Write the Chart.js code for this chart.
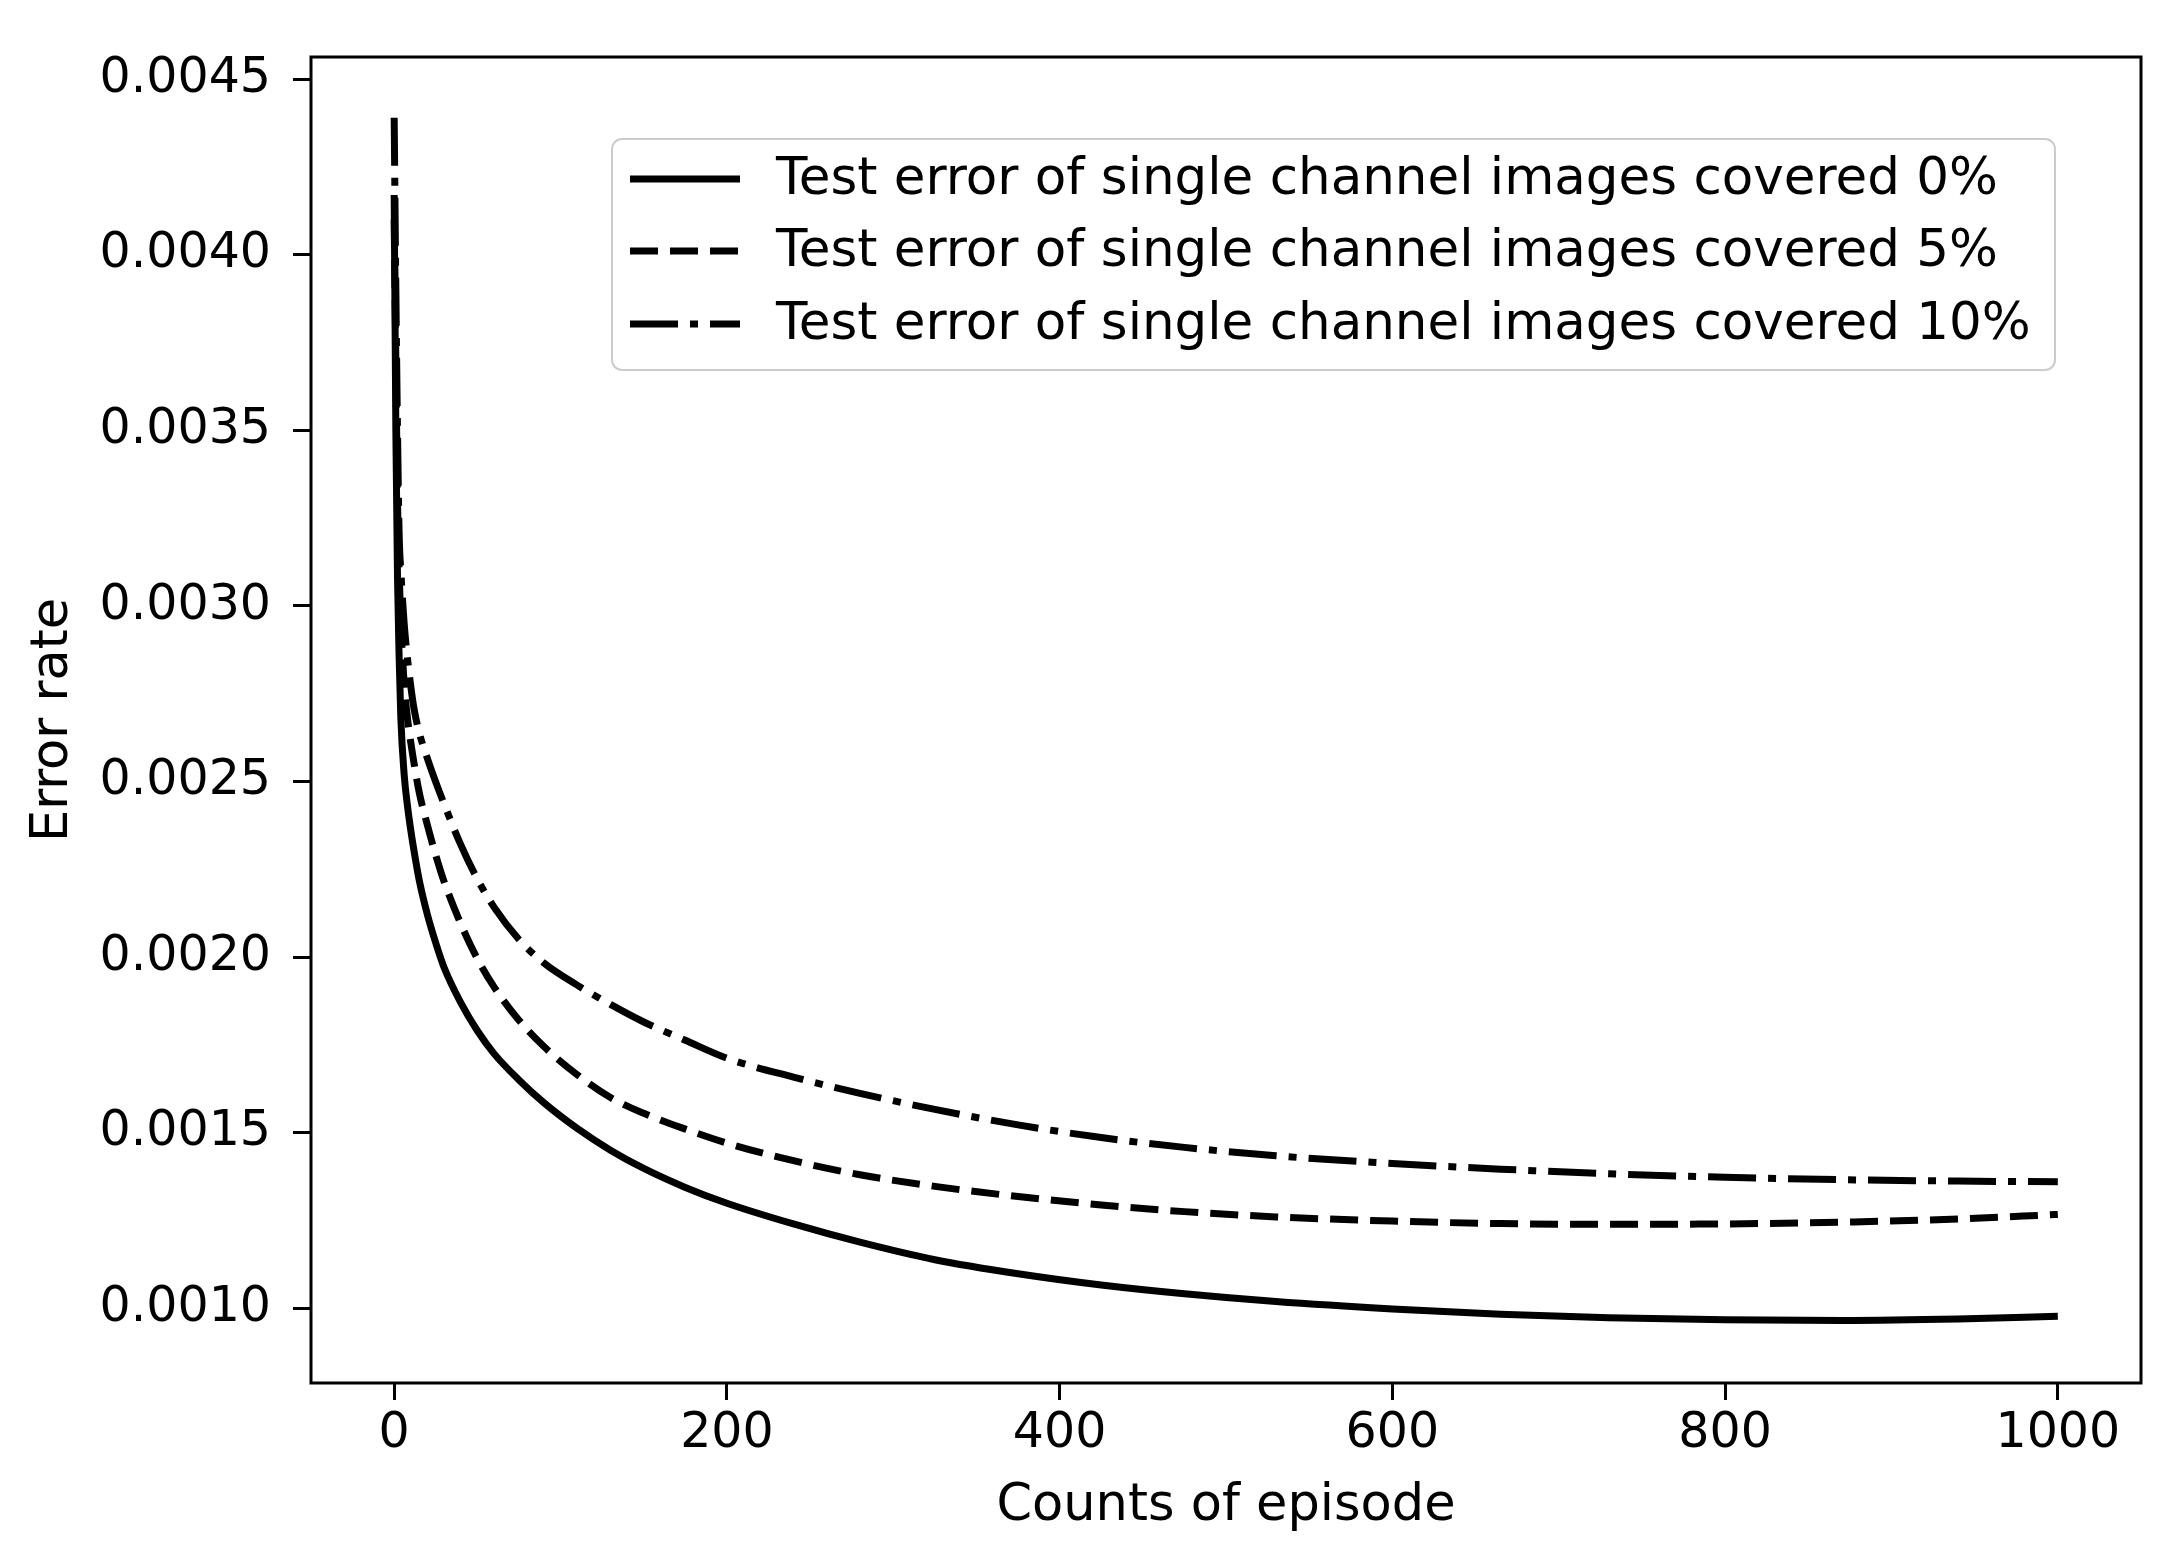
<!DOCTYPE html>
<html>
<head>
<meta charset="utf-8">
<script src="https://cdn.jsdelivr.net/npm/chart.js@4"></script>
<style>
  html, body { margin: 0; padding: 0; background: #ffffff; }
  #c { display: block; }
</style>
</head>
<body>
<canvas id="c" width="2180" height="1549"></canvas>
<script>
// ---- data ----
const episodes  = [0, 1, 2, 3, 4, 6, 8, 10, 12, 15, 20, 25, 30, 40, 50, 60, 75, 90, 110, 130, 150, 175, 200, 240, 280, 325, 375, 425, 475, 530, 600, 665, 730, 800, 870, 940, 1000];
const covered0  = [0.00417, 0.0035, 0.00308, 0.00285, 0.00268, 0.00252, 0.00243, 0.00236, 0.00230, 0.00222, 0.00212, 0.00204, 0.00197, 0.00187, 0.00179, 0.001725, 0.00165, 0.001585, 0.001512, 0.00145, 0.001398, 0.001344, 0.001299, 0.00124, 0.001188, 0.001138, 0.001098, 0.001066, 0.001041, 0.001019, 0.000998, 0.000983, 0.000973, 0.000967, 0.000965, 0.000969, 0.000977];
const covered5  = [0.0041, 0.0037, 0.0033, 0.0031, 0.00295, 0.00278, 0.00268, 0.00261, 0.00255, 0.00247, 0.002375, 0.00229, 0.002215, 0.002095, 0.001995, 0.001915, 0.00182, 0.001745, 0.001665, 0.0016, 0.001555, 0.00151, 0.00147, 0.00142, 0.00138, 0.001347, 0.001318, 0.001294, 0.001275, 0.00126, 0.001248, 0.001241, 0.001239, 0.00124, 0.001245, 0.001254, 0.001267];
const covered10 = [0.00439, 0.0039, 0.0035, 0.0032, 0.0031, 0.00295, 0.00285, 0.00277, 0.002705, 0.00264, 0.002565, 0.002498, 0.002436, 0.00232, 0.002222, 0.002142, 0.00205, 0.001983, 0.00192, 0.001865, 0.001815, 0.001763, 0.001712, 0.001658, 0.001612, 0.001566, 0.001522, 0.001486, 0.001458, 0.001434, 0.001412, 0.001396, 0.001383, 0.001373, 0.001366, 0.001362, 0.00136];
const seriesLabels = [
  'Test error of single channel images covered 0%',
  'Test error of single channel images covered 5%',
  'Test error of single channel images covered 10%'
];
const xTicks = [0, 200, 400, 600, 800, 1000];
const yTicks = [0.0010, 0.0015, 0.0020, 0.0025, 0.0030, 0.0035, 0.0040, 0.0045];
const xTitle = 'Counts of episode';
const yTitle = 'Error rate';

// ---- styles ----
const FONT = 'DejaVu Sans';
const FS = 49;        // tick labels
const FS_TITLE = 51;  // axis titles
const FS_LEG = 51.5;  // legend
const LW = 7;
const dashes = [[], [28, 12], [48, 12, 8, 12]];

function pts(ys) { return episodes.map((x, i) => ({ x: x, y: ys[i] })); }

const frame = {
  id: 'frame',
  afterDatasetsDraw(chart) {
    const { ctx, chartArea: a } = chart;
    ctx.save();
    ctx.strokeStyle = '#000';
    ctx.lineWidth = 3;
    ctx.strokeRect(a.left, a.top, a.right - a.left, a.bottom - a.top);
    ctx.restore();
  }
};

const legendBox = {
  id: 'legendBox',
  afterDraw(chart) {
    const { ctx, chartArea: a } = chart;
    const w = 1443, h = 231;
    const x0 = a.right - 86 - w, y0 = a.top + 82;
    ctx.save();
    ctx.beginPath();
    if (ctx.roundRect) ctx.roundRect(x0, y0, w, h, 10); else ctx.rect(x0, y0, w, h);
    ctx.fillStyle = 'rgba(255,255,255,0.85)';
    ctx.fill();
    ctx.strokeStyle = '#cccccc';
    ctx.lineWidth = 2;
    ctx.stroke();
    const rows = [40, 112, 185];
    chart.data.datasets.forEach((ds, i) => {
      const cy = y0 + rows[i];
      ctx.beginPath();
      ctx.setLineDash(ds.borderDash || []);
      ctx.lineWidth = LW;
      ctx.strokeStyle = '#000';
      ctx.moveTo(x0 + 18, cy);
      ctx.lineTo(x0 + 128, cy);
      ctx.stroke();
      ctx.setLineDash([]);
      ctx.fillStyle = '#000';
      ctx.font = FS_LEG + 'px "' + FONT + '"';
      ctx.textAlign = 'left';
      ctx.textBaseline = 'middle';
      ctx.fillText(ds.label, x0 + 164, cy + 2);
    });
    ctx.restore();
  }
};

const datasets = [covered0, covered5, covered10].map((ys, i) => ({
  label: seriesLabels[i],
  data: pts(ys),
  borderColor: '#000',
  backgroundColor: '#000',
  borderWidth: LW,
  borderDash: dashes[i],
  borderCapStyle: 'butt',
  borderJoinStyle: 'round',
  pointRadius: 0,
  fill: false,
  cubicInterpolationMode: 'monotone'
}));

new Chart(document.getElementById('c'), {
  type: 'line',
  data: { datasets: datasets },
  plugins: [frame, legendBox],
  options: {
    responsive: false,
    animation: false,
    devicePixelRatio: 1,
    layout: { padding: { left: 0, top: 57, right: 39, bottom: 0 } },
    plugins: { legend: { display: false }, tooltip: { enabled: false } },
    scales: {
      x: {
        type: 'linear',
        min: -50,
        max: 1050,
        afterBuildTicks: (s) => { s.ticks = xTicks.map(v => ({ value: v })); },
        afterFit: (s) => { s.height = 166; },
        grid: { drawOnChartArea: false, drawTicks: true, tickLength: 17, tickWidth: 3, tickColor: '#000' },
        border: { display: false },
        ticks: { color: '#000', padding: 10, maxRotation: 0, autoSkip: false,
                 font: { family: FONT, size: FS, lineHeight: 1 },
                 callback: (v) => String(v) },
        title: { display: true, text: xTitle, color: '#000',
                 font: { family: FONT, size: FS_TITLE, lineHeight: 1.2 },
                 padding: { top: 0, bottom: 12 } }
      },
      y: {
        type: 'linear',
        min: 0.000787,
        max: 0.004563,
        afterBuildTicks: (s) => { s.ticks = yTicks.map(v => ({ value: v })); },
        afterFit: (s) => { s.width = 311; },
        grid: { drawOnChartArea: false, drawTicks: true, tickLength: 18, tickWidth: 3, tickColor: '#000' },
        border: { display: false },
        ticks: { color: '#000', padding: 22, autoSkip: false,
                 font: { family: FONT, size: FS, lineHeight: 1 },
                 callback: (v) => Number(v).toFixed(4) },
        title: { display: true, text: yTitle, color: '#000',
                 font: { family: FONT, size: FS_TITLE, lineHeight: 1.2 },
                 padding: { top: 23, bottom: 0 } }
      }
    }
  }
});
</script>
</body>
</html>
